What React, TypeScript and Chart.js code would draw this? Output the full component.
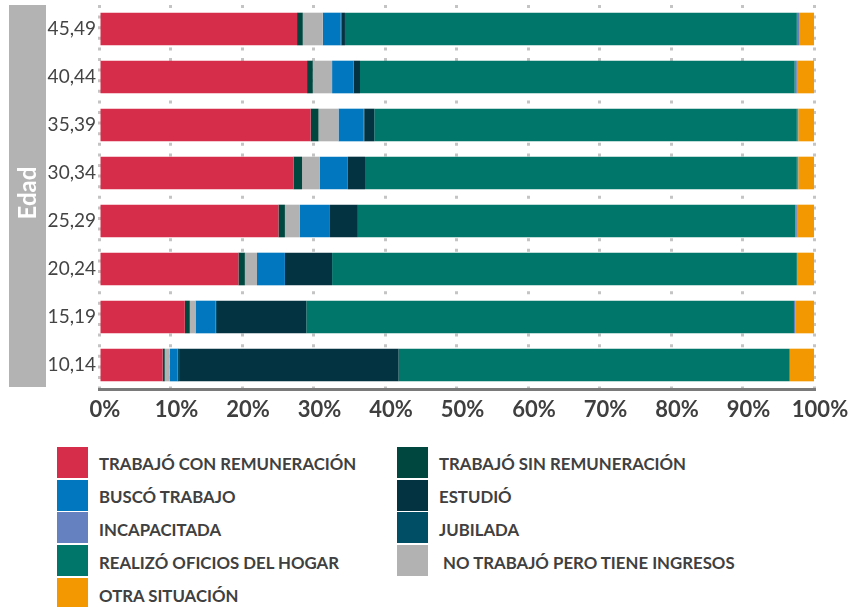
import React, { useEffect, useRef } from "react";
import { Chart, registerables } from "chart.js";

Chart.register(...registerables);

// ---------- DATA ----------
const ageGroups = ["45,49", "40,44", "35,39", "30,34", "25,29", "20,24", "15,19", "10,14"];

const trabajoConRemuneracion = [27.7, 29.1, 29.6, 27.2, 25.1, 19.5, 12.0, 8.9];
const trabajoSinRemuneracion = [0.8, 0.8, 1.1, 1.2, 0.9, 0.9, 0.7, 0.3];
const noTrabajoConIngresos = [2.8, 2.7, 2.8, 2.5, 2.1, 1.7, 0.8, 0.7];
const buscoTrabajo = [2.5, 3.0, 3.5, 3.9, 4.2, 3.9, 2.8, 1.1];
const jubilada = [0.1, 0.0, 0.1, 0.0, 0.0, 0.0, 0.2, 0.2];
const estudio = [0.5, 0.9, 1.4, 2.4, 3.9, 6.6, 12.5, 30.7];
const oficiosHogar = [63.2, 60.8, 59.1, 60.4, 61.2, 65.0, 68.2, 54.7];
const incapacitada = [0.3, 0.3, 0.2, 0.2, 0.2, 0.0, 0.2, 0.0];
const otraSituacion = [2.1, 2.4, 2.2, 2.2, 2.4, 2.4, 2.6, 3.4];

const xTickValues = [0, 10, 20, 30, 40, 50, 60, 70, 80, 90, 100];
const axisTitle = "Edad";

// series labels
const L_CON = "TRABAJÓ CON REMUNERACIÓN";
const L_SIN = "TRABAJÓ SIN REMUNERACIÓN";
const L_BUSCO = "BUSCÓ TRABAJO";
const L_EST = "ESTUDIÓ";
const L_INC = "INCAPACITADA";
const L_JUB = "JUBILADA";
const L_HOG = "REALIZÓ OFICIOS DEL HOGAR";
const L_ING = "NO TRABAJÓ PERO TIENE INGRESOS";
const L_OTRA = "OTRA SITUACIÓN";

// colours
const colors: Record<string, string> = {
  [L_CON]: "#d62e4a",
  [L_SIN]: "#00473f",
  [L_BUSCO]: "#0077be",
  [L_EST]: "#033341",
  [L_INC]: "#6681bf",
  [L_JUB]: "#004e66",
  [L_HOG]: "#00766a",
  [L_ING]: "#b2b2b2",
  [L_OTRA]: "#f39800",
};

// stacking order (left to right in bars)
const stackOrder: [string, number[]][] = [
  [L_CON, trabajoConRemuneracion],
  [L_SIN, trabajoSinRemuneracion],
  [L_ING, noTrabajoConIngresos],
  [L_BUSCO, buscoTrabajo],
  [L_JUB, jubilada],
  [L_EST, estudio],
  [L_HOG, oficiosHogar],
  [L_INC, incapacitada],
  [L_OTRA, otraSituacion],
];

// legend order (two columns)
const legendLeft = [L_CON, L_BUSCO, L_INC, L_HOG, L_OTRA];
const legendRight = [L_SIN, L_EST, L_JUB, " " + L_ING];

const FONT = "Lato, 'Open Sans', sans-serif";

const edadBoxPlugin = {
  id: "edadBox",
  beforeDraw(chart: any) {
    const { ctx } = chart;
    ctx.save();
    ctx.fillStyle = "#b3b3b3";
    ctx.fillRect(9, 5, 37, 382);
    ctx.translate(28, 193);
    ctx.rotate(-Math.PI / 2);
    ctx.fillStyle = "#ffffff";
    ctx.font = `bold 24px ${FONT}`;
    ctx.textAlign = "center";
    ctx.textBaseline = "middle";
    ctx.fillText(axisTitle, 0, 0);
    ctx.restore();
  },
};

function LegendItem({ label }: { label: string }) {
  const key = label.trim();
  return (
    <div style={{ display: "flex", alignItems: "center", height: 32.8 }}>
      <div style={{ width: 31, height: 31, background: colors[key], flex: "none" }} />
      <div
        style={{
          marginLeft: 11,
          font: `bold 16.8px ${FONT}`,
          color: "#404040",
          whiteSpace: "pre",
          paddingTop: 3,
        }}
      >
        {label}
      </div>
    </div>
  );
}

export default function App() {
  const canvasRef = useRef<HTMLCanvasElement | null>(null);

  useEffect(() => {
    if (!canvasRef.current) return;
    const chart = new Chart(canvasRef.current, {
      type: "bar",
      data: {
        labels: ageGroups,
        datasets: stackOrder.map(([label, values]) => ({
          label,
          data: values,
          backgroundColor: colors[label],
          borderWidth: 0,
          barPercentage: 0.85,
          categoryPercentage: 0.8,
        })),
      },
      options: {
        indexAxis: "y",
        responsive: false,
        animation: false,
        layout: { padding: { top: 5, right: 38, left: 0, bottom: 0 } },
        plugins: {
          legend: { display: false },
          tooltip: { enabled: false },
        },
        scales: {
          x: {
            stacked: true,
            min: 0,
            max: 100,
            afterBuildTicks: (scale: any) => {
              scale.ticks = xTickValues.map((v) => ({ value: v }));
            },
            afterFit: (scale: any) => {
              scale.height = 43;
              scale.paddingLeft = 0;
              scale.paddingRight = 0;
            },
            grid: {
              color: "#c4c4c4",
              lineWidth: 3,
              drawTicks: false,
            },
            border: { display: true, color: "#7a7a7a", width: 3, dash: [3, 7.6] },
            ticks: {
              padding: 8,
              labelOffset: 6,
              color: "#3f3f3f",
              font: { family: FONT, size: 22, weight: "bold" },
              callback: (v: any) => `${v}%`,
              maxRotation: 0,
              autoSkip: false,
            },
          },
          y: {
            stacked: true,
            afterFit: (scale: any) => {
              scale.width = 99;
              scale.paddingTop = 0;
              scale.paddingBottom = 0;
            },
            grid: { display: false, drawTicks: false },
            border: { display: false },
            ticks: {
              padding: 3,
              color: "#444444",
              font: { family: FONT, size: 19 },
            },
          },
        },
      },
      plugins: [edadBoxPlugin],
    } as any);
    return () => chart.destroy();
  }, []);

  return (
    <div style={{ position: "absolute", left: 0, top: 0, width: 852, height: 607, background: "#fff" }}>
      <canvas ref={canvasRef} width={852} height={432} style={{ position: "absolute", left: 0, top: 0 }} />
      <div style={{ position: "absolute", left: 57, top: 446 }}>
        {legendLeft.map((l) => (
          <LegendItem key={l} label={l} />
        ))}
      </div>
      <div style={{ position: "absolute", left: 397, top: 446 }}>
        {legendRight.map((l) => (
          <LegendItem key={l} label={l} />
        ))}
      </div>
    </div>
  );
}
